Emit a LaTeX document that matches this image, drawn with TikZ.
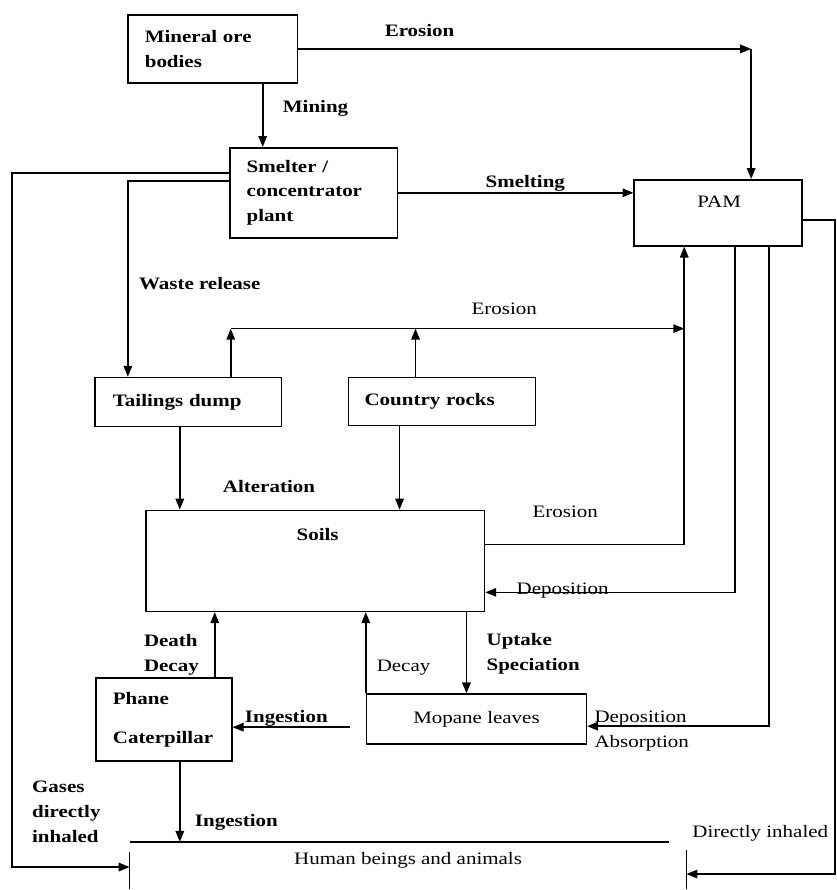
\documentclass[tikz,border=0pt]{standalone}
\usepackage{fontspec}
\setmainfont{Liberation Serif}[FakeStretch=1.2]
\usetikzlibrary{arrows.meta}
\begin{document}
\begin{tikzpicture}[x=1pt,y=-1pt,
  every node/.style={font=\fontsize{17.5}{25}\selectfont},
  box/.style={draw, line width=1.6pt, inner ysep=0pt, align=left},
  bf/.style={font=\fontsize{17.5}{25}\selectfont\bfseries},
  lab/.style={inner sep=0pt, anchor=base west},
  arr/.style={line width=1.6pt, -{Triangle[length=11pt,width=8.5pt]}},
  ln/.style={line width=1.6pt}]
\fill[white] (0,0) rectangle (837,890);
% boxes
\node[box,bf,minimum width=170pt,minimum height=68pt,text width=136pt,inner xsep=17pt] (ore) at (213,49) {Mineral ore\\bodies};
\node[box,bf,minimum width=168pt,minimum height=90pt,text width=134pt,inner xsep=17pt] (smelter) at (314,193) {Smelter /\\concentrator\\plant};
\node[box,minimum width=168pt,minimum height=66pt] (pam) at (719,213) {};
\node[inner sep=0pt,anchor=base] (pamt) at (720,208) {PAM};
\node[box,bf,minimum width=187pt,minimum height=49pt,text width=151pt,inner xsep=18pt] (tailings) at (188.5,402.5) {Tailings dump};
\node[box,bf,minimum width=187pt,minimum height=48pt,text width=155pt,inner xsep=16pt] (country) at (442.5,402) {Country rocks};
\node[box,minimum width=339pt,minimum height=101pt] (soils) at (315.5,561.5) {};
\node[inner sep=0pt,anchor=base,bf] (soilst) at (318,541) {Soils};
\node[box,minimum width=220pt,minimum height=50pt] (mopane) at (477,720) {Mopane leaves};
\node[box,bf,minimum width=136pt,minimum height=83pt,text width=102pt,inner xsep=17pt] (phane) at (164,720.5) {Phane\\[14pt]Caterpillar};
\node[minimum width=557pt,minimum height=47pt,inner sep=0pt,text height=10pt,text depth=13pt] (human) at (408.5,866.5) {Human beings and animals};
\draw[ln] (human.south west) -- ([yshift=-10pt]human.north west);
\draw[ln] (human.north west) -- ([xshift=-17pt]human.north east);
\draw[ln] ([yshift=-8pt]human.north east) -- (human.south east);
% coordinates
\coordinate (c1) at (752,49);
\coordinate (g1) at (12,173);
\coordinate (g2) at (12,868);
\coordinate (e1) at (231,329);
\coordinate (e2) at (685,329);
\coordinate (d1) at (836,220);
\coordinate (d2) at (836,875);
\coordinate (i1) at (350,728);
% connectors
\draw[arr] ([xshift=50pt]ore.south) -- ([xshift=50pt]ore.south |- smelter.north);
\draw[arr] (ore.east) -- (c1);
\draw[arr] (c1) -- (c1 |- pam.north);
\draw[arr] (smelter.east) -- (smelter.east -| pam.west);
\draw[arr] ([yshift=20pt]smelter.west) -- (g1) -- (g2) -- (g2 -| human.west);
\draw[arr] ([yshift=12pt]smelter.west) -| ([xshift=-60.5pt]tailings.north);
\draw[arr] ([xshift=42.5pt]tailings.north) -- (e1);
\draw[arr] ([xshift=-26.5pt]country.north) -- ([xshift=-26.5pt]country.north |- e1);
\draw[arr] (e1) -- (e2);
\draw[arr] ([yshift=16.5pt]soils.east) -| (e2 |- pam.south);
\draw[arr] ([xshift=17pt]pam.south) |- ([yshift=-31.5pt]soils.east);
\draw[arr] ([xshift=51pt]pam.south) |- ([yshift=-7pt]mopane.east);
\draw[arr] ([yshift=-7pt]pam.east) -- (d1) -- (d2) -- (d2 -| human.east);
\draw[arr] ([xshift=-8.5pt]tailings.south) -- ([xshift=-8.5pt]tailings.south |- soils.north);
\draw[arr] ([xshift=-42.5pt]country.south) -- ([xshift=-42.5pt]country.south |- soils.north);
\draw[arr] ([xshift=151.5pt]soils.south) -- ([xshift=151.5pt]soils.south |- mopane.north);
\draw[arr] (mopane.north west) -- (mopane.north west |- soils.south);
\draw[arr] ([xshift=51pt]phane.north) -- ([xshift=51pt]phane.north |- soils.south);
\draw[arr] (i1) -- (i1 -| phane.east);
\draw[arr] ([xshift=16pt]phane.south) -- ([xshift=16pt]phane.south |- human.north);
% labels
\node[lab,bf] (lerosion1) at (385,37) {Erosion};
\node[lab,bf] (lmining) at (283,113) {Mining};
\node[lab,bf] (lsmelting) at (486,188) {Smelting};
\node[lab,bf] (lwaste) at (139,290) {Waste release};
\node[lab] (lerosion2) at (472,315) {Erosion};
\node[lab,bf] (lalter) at (223,493) {Alteration};
\node[lab] (lerosion3) at (533,518) {Erosion};
\node[lab] (ldep1) at (517,595) {Deposition};
\node[lab,bf,align=left] (ldeath) at (144,672) {Death\\Decay};
\node[lab] (ldecay) at (377,672) {Decay};
\node[lab,bf,align=left] (luptake) at (487,671) {Uptake\\Speciation};
\node[lab,bf] (ling1) at (245,723) {Ingestion};
\node[lab,align=left] (ldep2) at (595,748) {Deposition\\Absorption};
\node[lab,bf,align=left] (lgases) at (32,843) {Gases\\directly\\inhaled};
\node[lab,bf] (ling2) at (195,827) {Ingestion};
\node[lab] (ldirect) at (693,838) {Directly inhaled};
\end{tikzpicture}
\end{document}
